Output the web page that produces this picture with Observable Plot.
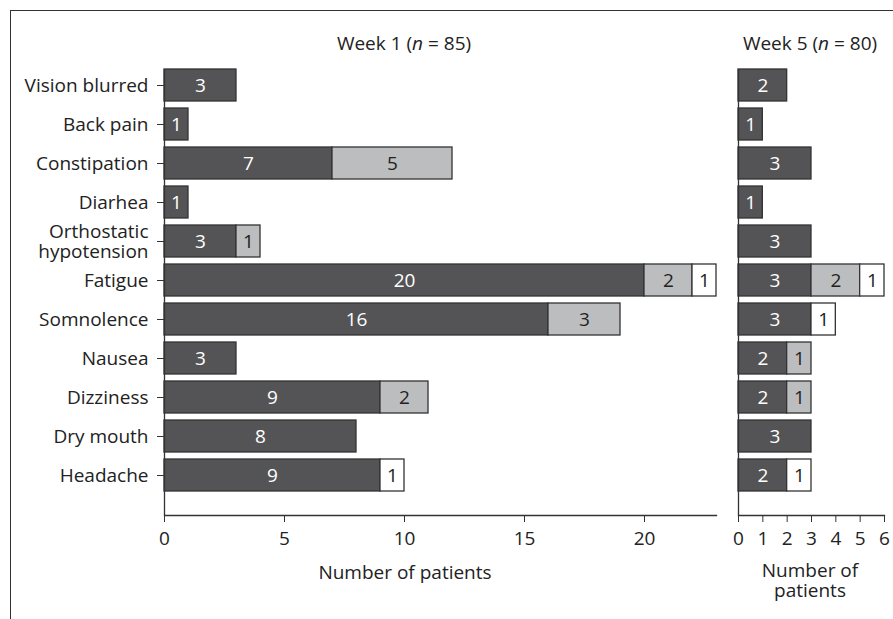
<!DOCTYPE html>
<html>
<head>
<meta charset="utf-8">
<script src="https://cdn.jsdelivr.net/npm/d3@7"></script>
<script src="https://cdn.jsdelivr.net/npm/@observablehq/plot@0.6"></script>
<style>
  body { margin: 0; background: #fff; font-family: "Open Sans", sans-serif; color: #222; }
  #wrap { position: relative; width: 893px; height: 619px; overflow: hidden; }
  #frame { position: absolute; left: 10px; top: 10px; width: 890px; height: 620px; border-top: 1.5px solid #333; border-left: 1.5px solid #333; }
  .lbl { position: absolute; font-size: 19px; text-align: center; white-space: nowrap; line-height: 20px; transform: translate(-50%, -50%); }
  .plot { position: absolute; top: 0; }
</style>
</head>
<body>
<div id="wrap">
  <div id="frame"></div>
  <div class="lbl" style="left:404px; top:43px;">Week 1 (<i>n</i> = 85)</div>
  <div class="lbl" style="left:810px; top:43px;">Week 5 (<i>n</i> = 80)</div>
  <div class="lbl" style="left:405px; top:572px;">Number of patients</div>
  <div class="lbl" style="left:810px; top:580px;">Number of<br>patients</div>
  <div id="left" class="plot" style="left:0px;"></div>
  <div id="right" class="plot" style="left:720px;"></div>
</div>
<script>
const categories = ["Vision blurred", "Back pain", "Constipation", "Diarhea", "Orthostatic hypotension",
  "Fatigue", "Somnolence", "Nausea", "Dizziness", "Dry mouth", "Headache"];
const severities = ["Mild", "Moderate", "Severe"];
// values per category: [dark, light gray, white]
const week1Mild     = [3, 1, 7, 1, 3, 20, 16, 3, 9, 8, 9];
const week1Moderate = [0, 0, 5, 0, 1, 2, 3, 0, 2, 0, 0];
const week1Severe   = [0, 0, 0, 0, 0, 1, 0, 0, 0, 0, 1];
const week5Mild     = [2, 1, 3, 1, 3, 3, 3, 2, 2, 3, 2];
const week5Moderate = [0, 0, 0, 0, 0, 2, 0, 1, 1, 0, 0];
const week5Severe   = [0, 0, 0, 0, 0, 1, 1, 0, 0, 0, 1];
const week1Ticks = [0, 5, 10, 15, 20];
const week5Ticks = [0, 1, 2, 3, 4, 5, 6];

const fills = ["#545456", "#bcbdbf", "#ffffff"];
const textFills = ["#ffffff", "#222222", "#222222"];

function toLong(mild, mod, sev) {
  const out = [];
  categories.forEach((c, i) => {
    [mild[i], mod[i], sev[i]].forEach((v, j) => {
      if (v > 0) out.push({cat: c, sev: severities[j], n: v});
    });
  });
  return out;
}
const w1 = toLong(week1Mild, week1Moderate, week1Severe);
const w5 = toLong(week5Mild, week5Moderate, week5Severe);

const H = 600, MT = 69, MB = 85, FS = 19;
const yOpts = {domain: categories, paddingInner: 0.17, paddingOuter: 0.2, align: 0};
const colorOpts = {domain: severities, range: fills};

function marks(data, showY, ticks) {
  return [
    Plot.barX(data, {x: "n", y: "cat", fill: "sev", stroke: "#333", strokeWidth: 1.3}),
    Plot.text(data, Plot.stackX({x: "n", y: "cat", z: "sev", text: d => String(d.n),
      fill: d => textFills[severities.indexOf(d.sev)], fontSize: FS})),
    Plot.ruleX([0], {stroke: "#333", strokeWidth: 1.3}),
    Plot.frame({anchor: "bottom", stroke: "#333", strokeWidth: 1.3}),
    showY ? Plot.axisY({tickSize: 7, tickPadding: 9, fontSize: FS, lineHeight: 1.05,
      tickFormat: d => d === "Orthostatic hypotension" ? "Orthostatic\nhypotension" : d, label: null, stroke: "#333"}) : null,
    Plot.axisX({ticks, tickSize: 7, tickPadding: 9, fontSize: FS, label: null, stroke: "#333",
      tickFormat: d => String(d)})
  ];
}

const style = {fontFamily: "Open Sans, sans-serif", fontSize: FS + "px", color: "#222", background: "transparent", overflow: "visible"};

const left = Plot.plot({
  width: 730, height: H, marginTop: MT, marginBottom: MB, marginLeft: 164, marginRight: 14,
  style,
  x: {domain: [0, 23], label: null},
  y: {...yOpts, label: null},
  color: colorOpts,
  marks: marks(w1, true, week1Ticks)
});
document.getElementById("left").appendChild(left);

const right = Plot.plot({
  width: 173, height: H, marginTop: MT, marginBottom: MB, marginLeft: 18, marginRight: 9,
  style,
  x: {domain: [0, 6], label: null},
  y: {...yOpts, label: null, axis: null},
  color: colorOpts,
  marks: marks(w5, false, week5Ticks)
});
document.getElementById("right").appendChild(right);
</script>
</body>
</html>
